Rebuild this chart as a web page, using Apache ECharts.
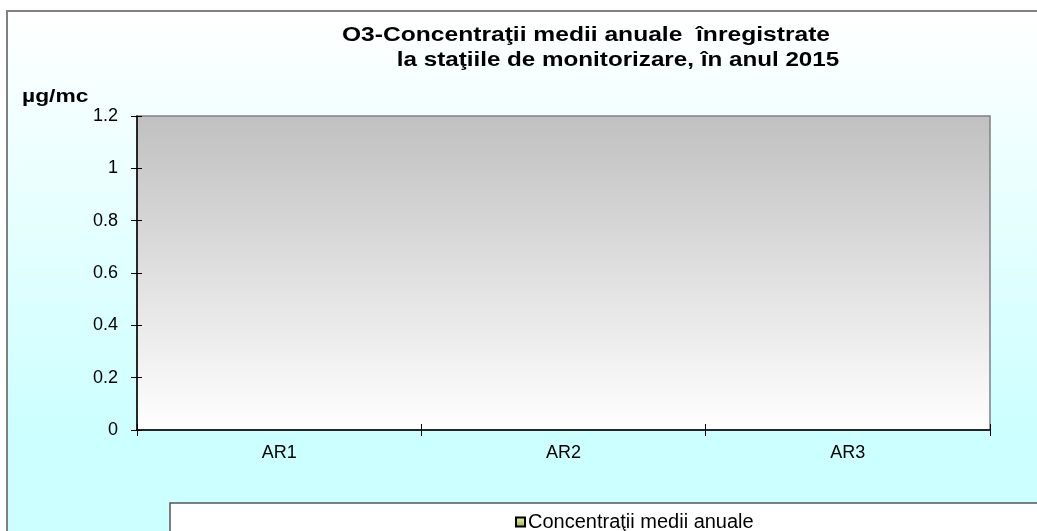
<!DOCTYPE html>
<html><head><meta charset="utf-8">
<script src="https://cdn.jsdelivr.net/npm/echarts@6/dist/echarts.min.js"></script>
<style>html,body{margin:0;padding:0;background:#fff}#c{width:1037px;height:531px}</style>
</head><body><div id="c"></div>
<script>
const categories = ['AR1', 'AR2', 'AR3'];
const seriesName = 'Concentraţii medii anuale';
const values = [null, null, null];
const titleLines = ['O3-Concentraţii medii anuale  înregistrate', 'la staţiile de monitorizare, în anul 2015'];
const unit = 'µg/mc';

const chart = echarts.init(document.getElementById('c'));
const F = '"Liberation Sans", Arial, sans-serif';
chart.setOption({
  animation: false,
  backgroundColor: '#ffffff',
  graphic: [
    { type: 'rect', z: -100, shape: { x: 7, y: 11, width: 1040, height: 530 },
      style: { fill: new echarts.graphic.LinearGradient(0, 0, 0, 1, [
        { offset: 0, color: '#ffffff' }, { offset: 0.8, color: '#ccffff' }, { offset: 1, color: '#ccffff' }]),
        stroke: '#808080', lineWidth: 2 } },
    { type: 'rect', z: 1, shape: { x: 170, y: 503, width: 880, height: 40 },
      style: { fill: '#ffffff', stroke: '#555555', lineWidth: 1.5 } },
    { type: 'text', z: 5, x: 586, y: 35, scaleX: 1.23,
      style: { text: titleLines[0], font: 'bold 20px ' + F, fill: '#000', align: 'center', verticalAlign: 'middle' } },
    { type: 'text', z: 5, x: 618, y: 60, scaleX: 1.21,
      style: { text: titleLines[1], font: 'bold 20px ' + F, fill: '#000', align: 'center', verticalAlign: 'middle' } },
    { type: 'text', z: 5, x: 22, y: 97, scaleX: 1.2,
      style: { text: unit, font: 'bold 19px ' + F, fill: '#000', align: 'left', verticalAlign: 'middle' } }
  ],
  legend: {
    show: true, z: 10, top: 507, left: 510,
    itemWidth: 9, itemHeight: 9, itemGap: 4,
    textStyle: { fontFamily: F, fontSize: 20, color: '#000', padding: [0, 0, 0, -2] },
    data: [{ name: seriesName, icon: 'rect' }]
  },
  grid: { left: 137, top: 116, right: 47, bottom: 101, show: true,
    backgroundColor: new echarts.graphic.LinearGradient(0, 0, 0, 1, [
      { offset: 0, color: '#c0c0c0' }, { offset: 1, color: '#ffffff' }]),
    borderColor: '#808080', borderWidth: 1.5 },
  xAxis: [{
    type: 'category', data: categories, boundaryGap: true,
    axisLine: { lineStyle: { color: '#000', width: 1.5 } },
    axisTick: { show: true, inside: false, length: 6, alignWithLabel: false, lineStyle: { color: '#000' } },
    axisLabel: { fontFamily: F, fontSize: 18, color: '#000', margin: 14 },
    splitLine: { show: false }
  }, {
    type: 'category', data: categories, boundaryGap: true, position: 'bottom',
    axisLine: { show: false },
    axisTick: { show: true, inside: true, length: 6, lineStyle: { color: '#000' } },
    axisLabel: { show: false }, splitLine: { show: false }
  }],
  yAxis: [{
    type: 'value', min: 0, max: 1.2, interval: 0.2,
    axisLine: { show: true, lineStyle: { color: '#000', width: 1.5 } },
    axisTick: { show: true, inside: false, length: 6, lineStyle: { color: '#000' } },
    axisLabel: { fontFamily: F, fontSize: 18, color: '#000', margin: 19,
      formatter: v => String(Math.round(v * 10) / 10) },
    splitLine: { show: false }
  }, {
    type: 'value', min: 0, max: 1.2, interval: 0.2, position: 'left', offset: 0,
    axisLine: { show: false },
    axisTick: { show: true, inside: true, length: 5, lineStyle: { color: '#000' } },
    axisLabel: { show: false }, splitLine: { show: false }
  }],
  series: [{
    name: seriesName, type: 'bar', data: values,
    itemStyle: { color: new echarts.graphic.LinearGradient(0, 0, 0, 1, [
      { offset: 0, color: '#f4f8a8' }, { offset: 1, color: '#8fb040' }]), borderColor: '#000', borderWidth: 1 }
  }]
});
</script></body></html>
